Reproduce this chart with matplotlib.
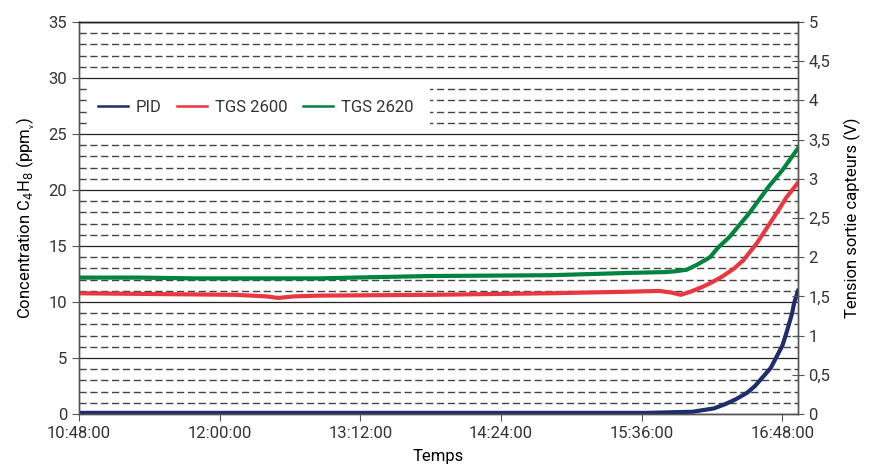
import matplotlib.pyplot as plt
from matplotlib.patches import Rectangle
from matplotlib.ticker import MultipleLocator

plt.rcParams['font.family'] = ['Roboto', 'DejaVu Sans']
plt.rcParams['text.color'] = '#333333'

# temps en minutes depuis 10:48:00
tick_pos = [0, 72, 144, 216, 288, 360]
tick_labels = ['10:48:00', '12:00:00', '13:12:00', '14:24:00', '15:36:00', '16:48:00']

# PID, concentration en ppmv (axe de gauche)
pid_t = [0, 290, 314, 325, 331, 336, 342, 346, 350, 354, 357, 360, 362, 365, 366, 368]
pid_c = [0.1, 0.1, 0.2, 0.5, 0.9, 1.3, 1.9, 2.5, 3.3, 4.1, 5.1, 6.1, 7.2, 9.0, 9.9, 11.0]

# TGS 2600, tension en V (axe de droite)
tgs2600_t = [0, 40, 80, 96, 102, 110, 123, 180, 241, 282, 297, 303, 308, 313, 319, 324,
             329, 335, 340, 347, 352, 357, 362, 368]
tgs2600_v = [1.54, 1.53, 1.52, 1.50, 1.48, 1.50, 1.51, 1.52, 1.54, 1.56, 1.57, 1.55, 1.52,
             1.56, 1.62, 1.68, 1.75, 1.85, 1.96, 2.18, 2.37, 2.56, 2.76, 2.95]

# TGS 2620, tension en V (axe de droite)
tgs2620_t = [0, 30, 60, 100, 123, 150, 180, 241, 282, 300, 305, 311, 316, 323, 327, 333,
             338, 343, 348, 353, 360, 364, 368]
tgs2620_v = [1.74, 1.74, 1.73, 1.73, 1.73, 1.745, 1.76, 1.77, 1.80, 1.81, 1.82, 1.84, 1.90,
             2.0, 2.12, 2.26, 2.41, 2.56, 2.73, 2.9, 3.11, 3.25, 3.39]

fig = plt.figure(figsize=(8.72, 4.69), dpi=100)
ax = fig.add_axes([79 / 872, 1 - 414 / 469, (798 - 79) / 872, (414 - 22) / 469])
ax2 = ax.twinx()

# grille : traits pleins tous les 5 ppm, tirets tous les 1 ppm
ax.set_axisbelow(True)
ax.set_ylim(0, 35)
ax.yaxis.set_major_locator(MultipleLocator(5))
ax.yaxis.set_minor_locator(MultipleLocator(1))
ax.grid(which='major', axis='y', color='#222222', lw=0.9, ls='-')
ax.grid(which='minor', axis='y', color='#444444', lw=1.0, ls=(0, (5.2, 2.6)))
ax.tick_params(axis='y', which='minor', length=0)

# fond blanc derriere la legende
ax.add_patch(Rectangle((0.013, 25.25 / 35), 0.475, 4.5 / 35, transform=ax.transAxes,
                       facecolor='white', edgecolor='none', zorder=1))

pid_line, = ax.plot(pid_t, pid_c, color='#1f2d6b', lw=3, label='PID', zorder=3,
                    solid_joinstyle='round')
l2600, = ax2.plot(tgs2600_t, tgs2600_v, color='#e83740', lw=3, label='TGS 2600',
                  solid_joinstyle='round')
l2620, = ax2.plot(tgs2620_t, tgs2620_v, color='#00843f', lw=3, label='TGS 2620',
                  solid_joinstyle='round')

ax.set_xlim(0, 368)
ax.set_xticks(tick_pos)
ax.set_xticklabels(tick_labels)
ax2.set_ylim(0, 5)
ax2.set_yticks([i * 0.5 for i in range(11)])
ax2.set_yticklabels([('%g' % (i * 0.5)).replace('.', ',') for i in range(11)])

for a in (ax, ax2):
    for s in a.spines.values():
        s.set_color('#555555')
        s.set_linewidth(1.0)
    a.spines['top'].set_color('#222222')

ax.tick_params(axis='both', which='major', labelsize=12, colors='#555555',
               labelcolor='#333333', length=5, direction='out')
ax2.tick_params(axis='y', labelsize=12, colors='#555555', labelcolor='#333333',
                length=8, direction='inout')

ax.set_xlabel('Temps', fontsize=12, labelpad=6)
ax.set_ylabel('Concentration C$_{4}$H$_{8}$ (ppm$_{\\mathregular{_v}}$)', fontsize=12, labelpad=8)
ax2.set_ylabel('Tension sortie capteurs (V)', fontsize=12, labelpad=10)

leg = ax2.legend(handles=[pid_line, l2600, l2620], loc='upper left',
                 bbox_to_anchor=(0.005, 0.84), ncol=3, frameon=False, fontsize=12,
                 handlelength=1.8, handletextpad=0.5, columnspacing=0.9)
for h in leg.legend_handles:
    h.set_linewidth(1.8)

fig.savefig('out.png', dpi=100)
